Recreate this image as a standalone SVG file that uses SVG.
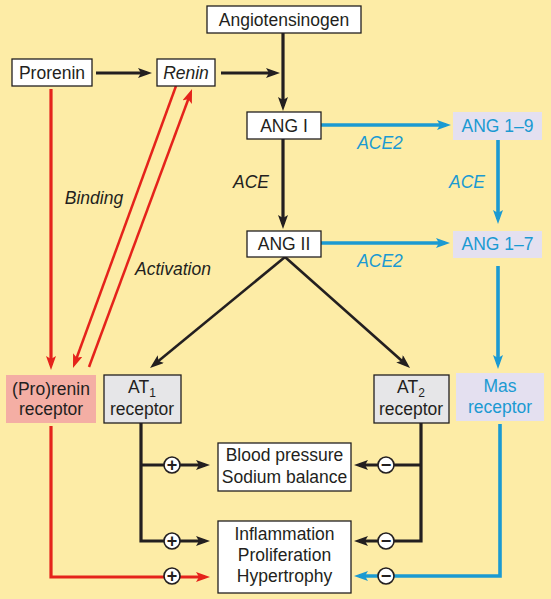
<svg xmlns="http://www.w3.org/2000/svg" width="551" height="599" viewBox="0 0 551 599">
<style>
text{font-family:"Liberation Sans",Arial,sans-serif;font-size:17.5px;fill:#231F20;text-anchor:middle}
.it{font-style:italic}
.bl{fill:#1B9AD2}
.box{fill:#fff;stroke:#231F20;stroke-width:1.3}
.gray{fill:#E6E6E8;stroke:#231F20;stroke-width:1.3}
.pink{fill:#F4AEA4}
.lav{fill:#E4E0F0}
.k{stroke:#231F20;stroke-width:3.2;fill:none}
.r{stroke:#E5231B;stroke-width:3.2;fill:none}
.rt{stroke:#E5231B;stroke-width:2.5;fill:none}
.b{stroke:#1B9AD2;stroke-width:3.6;fill:none}
.sg{fill:#fff;stroke:#231F20;stroke-width:1.6}
.sym{font-size:18px;font-weight:bold}
.sub{font-size:12px}
</style>
<defs>
<marker id="ak" markerUnits="userSpaceOnUse" markerWidth="15" markerHeight="11" refX="9" refY="5" orient="auto"><path d="M0,0 L14,5 L0,10 L3,5 z" fill="#231F20"/></marker>
<marker id="ar" markerUnits="userSpaceOnUse" markerWidth="15" markerHeight="11" refX="9" refY="5" orient="auto"><path d="M0,0 L14,5 L0,10 L3,5 z" fill="#E5231B"/></marker>
<marker id="ab" markerUnits="userSpaceOnUse" markerWidth="15" markerHeight="11" refX="9" refY="5" orient="auto"><path d="M0,0 L14,5 L0,10 L3,5 z" fill="#1B9AD2"/></marker>
</defs>
<rect x="0" y="0" width="551" height="599" fill="#FDECA6"/>

<g id="connectors">
<path class="k" d="M96,73 H147" marker-end="url(#ak)"/>
<path class="k" d="M221,73 H275" marker-end="url(#ak)"/>
<path class="k" d="M283,33 V106" marker-end="url(#ak)"/>
<path class="k" d="M283,139 V224" marker-end="url(#ak)"/>
<path class="k" style="stroke-width:2.6" d="M285,257 L153.9,364.8" marker-end="url(#ak)"/>
<path class="k" style="stroke-width:2.6" d="M285,257 L406.3,364.7" marker-end="url(#ak)"/>
<path class="k" d="M141,423 V541 H205" marker-end="url(#ak)"/>
<path class="k" d="M141,465 H205" marker-end="url(#ak)"/>
<path class="k" d="M421,423 V541 H359" marker-end="url(#ak)"/>
<path class="k" d="M421,465 H359" marker-end="url(#ak)"/>
<path class="r" d="M51,89 V365" marker-end="url(#ar)"/>
<path class="rt" d="M176,86 L74.7,363.3" marker-end="url(#ar)"/>
<path class="rt" d="M89,367 L190.3,93.7" marker-end="url(#ar)"/>
<path class="r" d="M51,426 V577 H205" marker-end="url(#ar)"/>
<path class="b" d="M321,125 H446" marker-end="url(#ab)"/>
<path class="b" d="M498,140 V219" marker-end="url(#ab)"/>
<path class="b" d="M321,243 H445" marker-end="url(#ab)"/>
<path class="b" d="M498,266 V364" marker-end="url(#ab)"/>
<path class="b" d="M500,424 V576 H359" marker-end="url(#ab)"/>
<g id="signs">
<circle class="sg" cx="172" cy="465" r="8"/><text class="sym" x="172" y="471">+</text>
<circle class="sg" cx="172" cy="541" r="8"/><text class="sym" x="172" y="547">+</text>
<circle class="sg" cx="172" cy="576" r="8"/><text class="sym" x="172" y="582">+</text>
<circle class="sg" cx="386" cy="465" r="8"/><text class="sym" x="386" y="471">−</text>
<circle class="sg" cx="386" cy="541" r="8"/><text class="sym" x="386" y="547">−</text>
<circle class="sg" cx="386" cy="576" r="8"/><text class="sym" x="386" y="582">−</text>
</g>
</g>

<g id="labels">
<text class="it" x="251" y="188">ACE</text>
<text class="it bl" x="467" y="188">ACE</text>
<text class="it bl" x="380" y="149">ACE2</text>
<text class="it bl" x="380" y="267">ACE2</text>
<text class="it" x="94" y="204">Binding</text>
<text class="it" x="173" y="275">Activation</text>
</g>

<g id="angiotensinogen"><rect class="box" x="207" y="6" width="154" height="27"/><text x="284" y="26">Angiotensinogen</text></g>
<g id="prorenin"><rect class="box" x="12" y="59" width="80" height="27"/><text x="52" y="79">Prorenin</text></g>
<g id="renin"><rect class="box" x="157" y="59" width="58" height="27"/><text class="it" x="186" y="79">Renin</text></g>
<g id="ang1"><rect class="box" x="247" y="112" width="74" height="27"/><text x="284" y="132">ANG I</text></g>
<g id="ang19"><rect class="lav" x="453" y="112" width="89" height="28"/><text class="bl" x="497.5" y="132">ANG 1–9</text></g>
<g id="ang2"><rect class="box" x="247" y="231" width="74" height="26"/><text x="284" y="250">ANG II</text></g>
<g id="ang17"><rect class="lav" x="453" y="231" width="89" height="27"/><text class="bl" x="497.5" y="250">ANG 1–7</text></g>
<g id="prorenin-receptor"><rect class="pink" x="6" y="375" width="90" height="48"/><text x="51" y="395">(Pro)renin</text><text x="51" y="415">receptor</text></g>
<g id="at1"><rect class="gray" x="104" y="375" width="77" height="48"/><text x="142" y="393">AT<tspan class="sub" dy="4">1</tspan></text><text x="142" y="415">receptor</text></g>
<g id="at2"><rect class="gray" x="374" y="375" width="75" height="48"/><text x="411" y="393">AT<tspan class="sub" dy="4">2</tspan></text><text x="411" y="415">receptor</text></g>
<g id="mas"><rect class="lav" x="456" y="373" width="88" height="48"/><text class="bl" x="500" y="392">Mas</text><text class="bl" x="500" y="413">receptor</text></g>
<g id="blood-pressure"><rect class="box" x="218" y="443" width="133" height="48"/><text x="284.5" y="461">Blood pressure</text><text x="284.5" y="483">Sodium balance</text></g>
<g id="inflammation"><rect class="box" x="218" y="521" width="133" height="72"/><text x="284.5" y="540">Inflammation</text><text x="284.5" y="561">Proliferation</text><text x="284.5" y="582">Hypertrophy</text></g>
</svg>
